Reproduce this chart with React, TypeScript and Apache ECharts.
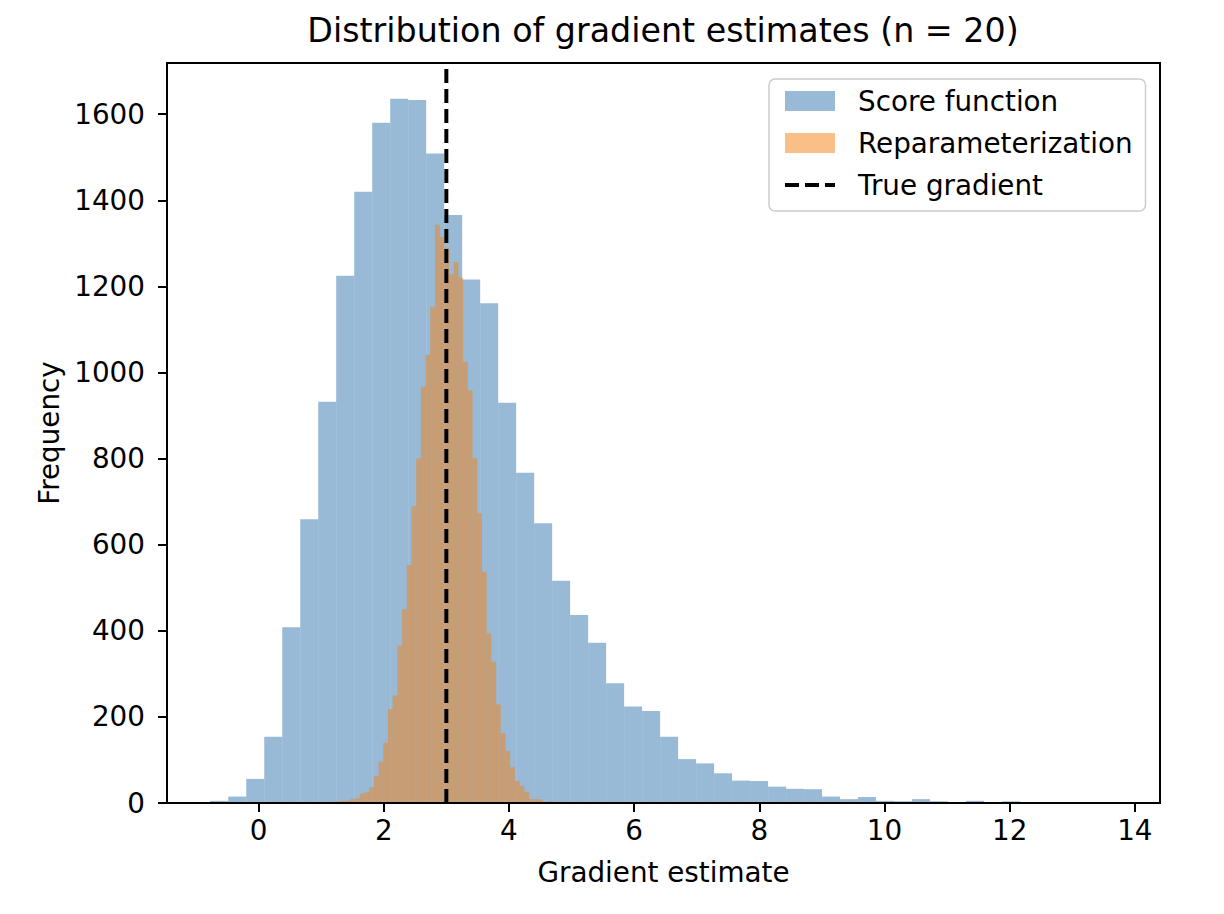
import React, { useEffect, useRef } from 'react';
import * as echarts from 'echarts';

// score function estimator: 50 bins
const scoreStart = -0.772;
const scoreBinWidth = 0.2875;
const scoreCounts = [
  5, 15, 56, 154, 408, 659, 932, 1225, 1420, 1580,
  1636, 1633, 1509, 1366, 1216, 1161, 930, 767, 650, 516,
  437, 372, 278, 224, 214, 154, 102, 92, 69, 52,
  51, 38, 33, 32, 15, 9, 14, 5, 4, 9,
  4, 1, 5, 1, 4, 1, 0, 0, 0, 1,
];

// reparameterization estimator: 50 bins
const reparamStart = 1.166;
const reparamBinWidth = 0.0751;
const reparamCounts = [
  1, 4, 5, 6, 9, 11, 22, 25, 37, 63,
  96, 140, 218, 250, 366, 450, 553, 690, 801, 967,
  1041, 1153, 1343, 1315, 1290, 1228, 1257, 1220, 1025, 959,
  801, 673, 537, 394, 328, 229, 162, 121, 83, 51,
  40, 26, 9, 9, 8, 1, 4, 3, 0, 1,
];

const trueGradient = 3;
const xTicks = [0, 2, 4, 6, 8, 10, 12, 14];
const yTicks = [0, 200, 400, 600, 800, 1000, 1200, 1400, 1600];

const FONT = 'DejaVu Sans';
const FS = 27.8;
const SCORE_COLOR = 'rgba(70,130,180,0.55)';
const REPARAM_COLOR = 'rgba(245,128,20,0.5)';

const toBins = (start: number, width: number, counts: number[]) =>
  counts.map((c, i) => [start + i * width, start + (i + 1) * width, c]);

const histItem = (color: string) => (params: any, api: any) => {
  const top = api.coord([api.value(0), api.value(2)]);
  const base = api.coord([api.value(1), 0]);
  return {
    type: 'rect',
    shape: { x: top[0], y: top[1], width: base[0] - top[0], height: base[1] - top[1] },
    style: { fill: color },
  };
};

const App = () => {
  const chartRef = useRef<HTMLDivElement>(null);

  useEffect(() => {
    document.body.style.margin = '0';
    const chart = echarts.init(chartRef.current, null, { renderer: 'svg' });

    const option: any = {
      animation: false,
      backgroundColor: '#fff',
      textStyle: { fontFamily: FONT },
      title: {
        text: 'Distribution of gradient estimates (n = 20)',
        left: 663,
        top: 14,
        padding: 0,
        textAlign: 'center',
        textStyle: { fontFamily: FONT, fontSize: 33.3, fontWeight: 'normal', color: '#000' },
      },
      legend: {
        orient: 'vertical',
        left: 769,
        top: 79,
        padding: [7, 13, 11, 14],
        itemWidth: 50,
        itemHeight: 20,
        itemGap: 12,
        backgroundColor: 'rgba(255,255,255,0.8)',
        borderColor: '#cccccc',
        borderWidth: 1.5,
        borderRadius: 6,
        textStyle: {
          fontFamily: FONT,
          fontSize: FS,
          color: '#000',
          lineHeight: 30,
          padding: [0, 0, 0, 18],
        },
        data: [
          { name: 'Score function', icon: 'rect' },
          { name: 'Reparameterization', icon: 'rect' },
          { name: 'True gradient', itemStyle: { opacity: 0 }, lineStyle: { width: 4 } },
        ],
      },
      grid: {
        left: 167,
        right: 64,
        top: 63,
        bottom: 111,
        show: true,
        borderColor: '#000',
        borderWidth: 2,
        backgroundColor: 'transparent',
      },
      xAxis: {
        type: 'value',
        min: -1.463,
        max: 14.402,
        z: 5,
        name: 'Gradient estimate',
        nameLocation: 'middle',
        nameGap: 55,
        nameTextStyle: { fontFamily: FONT, fontSize: FS, color: '#000' },
        splitLine: { show: false },
        axisLine: { show: true, onZero: false, lineStyle: { color: '#000', width: 2 } },
        axisTick: { show: true, length: 9, lineStyle: { color: '#000', width: 2 }, customValues: xTicks },
        axisLabel: {
          fontFamily: FONT,
          fontSize: FS,
          color: '#000',
          margin: 13,
          customValues: xTicks,
          formatter: (v: number) => String(v),
        },
      },
      yAxis: {
        type: 'value',
        min: 0,
        max: 1719,
        z: 5,
        name: 'Frequency',
        nameLocation: 'middle',
        nameRotate: 90,
        nameGap: 103,
        nameTextStyle: { fontFamily: FONT, fontSize: FS, color: '#000' },
        splitLine: { show: false },
        axisLine: { show: true, onZero: false, lineStyle: { color: '#000', width: 2 } },
        axisTick: { show: true, length: 9, lineStyle: { color: '#000', width: 2 }, customValues: yTicks },
        axisLabel: {
          fontFamily: FONT,
          fontSize: FS,
          color: '#000',
          margin: 22,
          customValues: yTicks,
          formatter: (v: number) => String(v),
        },
      },
      series: [
        {
          name: 'Score function',
          type: 'custom',
          itemStyle: { color: SCORE_COLOR },
          renderItem: histItem(SCORE_COLOR),
          encode: { x: [0, 1], y: 2 },
          data: toBins(scoreStart, scoreBinWidth, scoreCounts),
          z: 1,
        },
        {
          name: 'Reparameterization',
          type: 'custom',
          itemStyle: { color: REPARAM_COLOR },
          renderItem: histItem(REPARAM_COLOR),
          encode: { x: [0, 1], y: 2 },
          data: toBins(reparamStart, reparamBinWidth, reparamCounts),
          z: 2,
        },
        {
          name: 'True gradient',
          type: 'line',
          symbol: 'none',
          z: 3,
          itemStyle: { color: 'rgba(0,0,0,0)', borderColor: 'rgba(0,0,0,0)' },
          lineStyle: { color: '#000', width: 4, type: [14, 6] },
          data: [
            [trueGradient, 0],
            [trueGradient, 1719],
          ],
        },
      ],
    };

    chart.setOption(option);

    return () => {
      chart.dispose();
    };
  }, []);

  return <div ref={chartRef} style={{ width: '1224px', height: '914px' }} />;
};

export default App;
